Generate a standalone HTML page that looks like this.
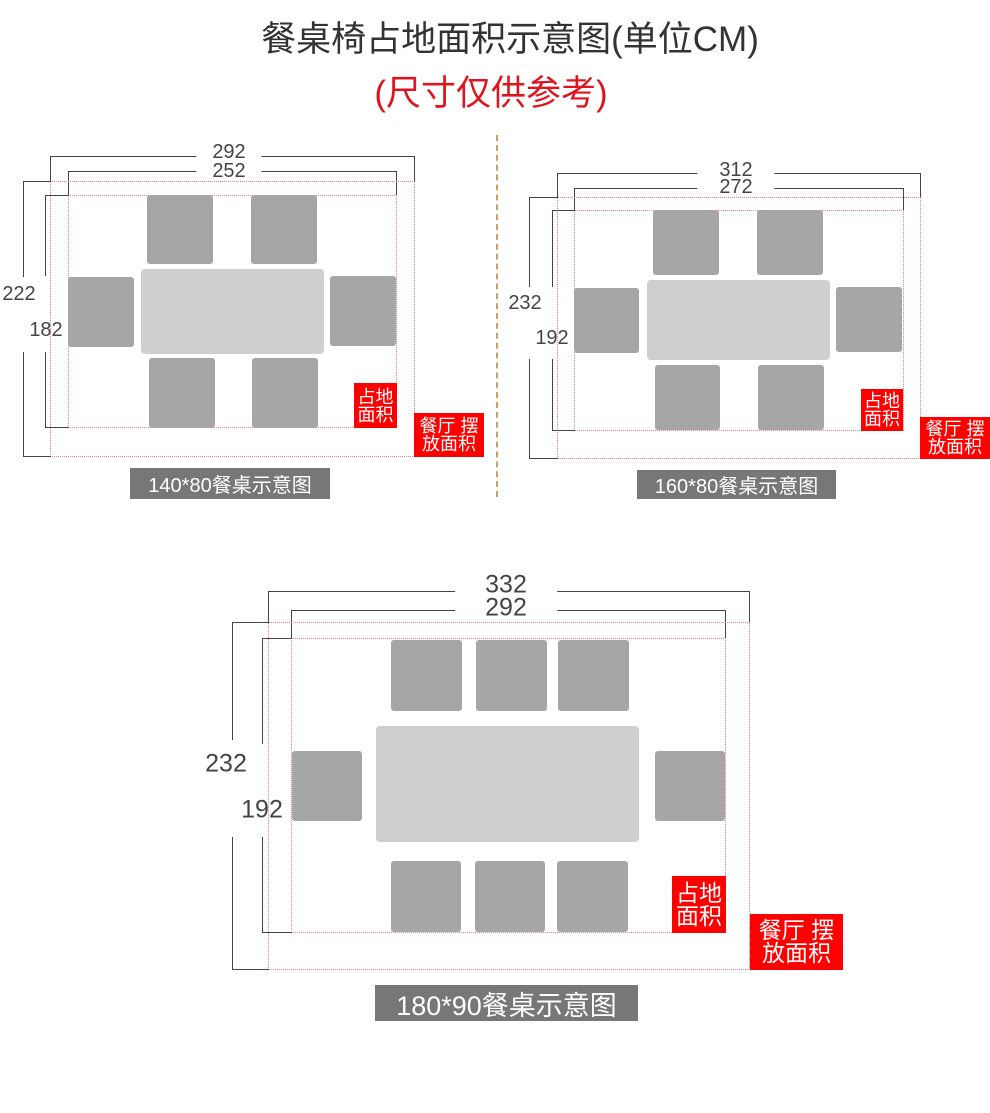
<!DOCTYPE html>
<html><head><meta charset="utf-8"><style>
body{margin:0;width:990px;height:1113px;background:#fff;position:relative;overflow:hidden;font-family:"Liberation Sans","Noto Sans CJK SC",sans-serif}
div{position:absolute;box-sizing:border-box}
.h{height:0;border-top:1.5px solid #444}
.v{width:0;border-left:1.5px solid #444}
.r{border:1px dotted #f08080}
.c{background:#a6a6a6;border-radius:3px}
.t{background:#cfcfcf;border-radius:4px}
.n{color:#444;line-height:1;white-space:nowrap;transform:translate(-50%,-50%);background:#fff;padding:0 2px}
.lb{background:#f00;color:#fff;line-height:1;font-size:18px;display:flex;flex-direction:column;align-items:center;justify-content:center;text-align:center}
.cap{background:#777;color:#fff;display:flex;align-items:center;justify-content:center;white-space:nowrap}
</style></head><body>
<div style="left:0;width:1020px;top:18px;text-align:center;font-size:35px;color:#333;line-height:44px">餐桌椅占地面积示意图(单位CM)</div>
<div style="left:0;width:982px;top:72px;text-align:center;font-size:35px;color:#e0141e;line-height:44px">(尺寸仅供参考)</div>
<div style="left:496px;top:135px;height:362px;width:0;border-left:2px dashed #c9a070"></div>

<!-- D1 -->
<div class="h" style="left:50px;top:156px;width:365px"></div>
<div class="v" style="left:50px;top:156px;height:26px"></div>
<div class="v" style="left:414px;top:156px;height:26px"></div>
<div class="h" style="left:68px;top:171px;width:329px"></div>
<div class="v" style="left:68px;top:171px;height:25px"></div>
<div class="v" style="left:396px;top:171px;height:25px"></div>
<div class="n" style="left:229px;top:152px;font-size:20px;padding:0 16px">292</div>
<div class="n" style="left:229px;top:171px;font-size:20px;padding:0 16px">252</div>
<div class="r" style="left:50px;top:181px;width:365px;height:276px"></div>
<div class="r" style="left:68px;top:195px;width:329px;height:233px"></div>
<div class="h" style="left:23px;top:181px;width:28px"></div>
<div class="v" style="left:23px;top:181px;height:96px"></div>
<div class="v" style="left:23px;top:352px;height:105px"></div>
<div class="h" style="left:23px;top:456px;width:28px"></div>
<div class="h" style="left:45px;top:195px;width:24px"></div>
<div class="v" style="left:45px;top:195px;height:81px"></div>
<div class="v" style="left:45px;top:352px;height:76px"></div>
<div class="h" style="left:45px;top:427px;width:24px"></div>
<div class="n" style="left:19px;top:294px;font-size:20px;background:none">222</div>
<div class="n" style="left:46px;top:330px;font-size:20px;background:none">182</div>
<div class="c" style="left:147px;top:195px;width:66px;height:69px"></div>
<div class="c" style="left:251px;top:195px;width:66px;height:69px"></div>
<div class="t" style="left:141px;top:269px;width:183px;height:85px"></div>
<div class="c" style="left:68px;top:277px;width:66px;height:70px"></div>
<div class="c" style="left:330px;top:276px;width:66px;height:70px"></div>
<div class="c" style="left:149px;top:358px;width:66px;height:70px"></div>
<div class="c" style="left:252px;top:358px;width:66px;height:70px"></div>
<div class="lb" style="left:354px;top:383px;width:43px;height:45px">占地<br>面积</div>
<div class="lb" style="left:414px;top:413px;width:70px;height:44px">餐厅 摆<br>放面积</div>
<div class="cap" style="left:130px;top:468px;width:200px;height:31px;font-size:20px">140*80餐桌示意图</div>

<!-- D2 -->
<div class="h" style="left:557px;top:173px;width:364px"></div>
<div class="v" style="left:557px;top:173px;height:25px"></div>
<div class="v" style="left:920px;top:173px;height:25px"></div>
<div class="h" style="left:574px;top:188px;width:330px"></div>
<div class="v" style="left:574px;top:188px;height:23px"></div>
<div class="v" style="left:903px;top:188px;height:23px"></div>
<div class="n" style="left:736px;top:170px;font-size:20px;padding:0 22px">312</div>
<div class="n" style="left:736px;top:187px;font-size:20px;padding:0 22px">272</div>
<div class="r" style="left:557px;top:197px;width:364px;height:262px"></div>
<div class="r" style="left:574px;top:210px;width:330px;height:221px"></div>
<div class="h" style="left:529px;top:197px;width:29px"></div>
<div class="v" style="left:529px;top:197px;height:90px"></div>
<div class="v" style="left:529px;top:359px;height:100px"></div>
<div class="h" style="left:529px;top:458px;width:29px"></div>
<div class="h" style="left:552px;top:210px;width:23px"></div>
<div class="v" style="left:552px;top:210px;height:77px"></div>
<div class="v" style="left:552px;top:359px;height:72px"></div>
<div class="h" style="left:552px;top:430px;width:23px"></div>
<div class="n" style="left:525px;top:303px;font-size:20px;background:none">232</div>
<div class="n" style="left:552px;top:338px;font-size:20px;background:none">192</div>
<div class="c" style="left:653px;top:210px;width:66px;height:65px"></div>
<div class="c" style="left:757px;top:210px;width:66px;height:65px"></div>
<div class="t" style="left:647px;top:280px;width:183px;height:80px"></div>
<div class="c" style="left:574px;top:288px;width:65px;height:65px"></div>
<div class="c" style="left:836px;top:287px;width:66px;height:65px"></div>
<div class="c" style="left:655px;top:365px;width:65px;height:65px"></div>
<div class="c" style="left:758px;top:365px;width:66px;height:65px"></div>
<div class="lb" style="left:861px;top:389px;width:42px;height:42px">占地<br>面积</div>
<div class="lb" style="left:920px;top:417px;width:70px;height:42px">餐厅 摆<br>放面积</div>
<div class="cap" style="left:637px;top:470px;width:199px;height:29px;font-size:20px">160*80餐桌示意图</div>

<!-- D3 -->
<div class="h" style="left:268px;top:591px;width:482px"></div>
<div class="v" style="left:268px;top:591px;height:32px"></div>
<div class="v" style="left:749px;top:591px;height:32px"></div>
<div class="h" style="left:291px;top:610px;width:435px"></div>
<div class="v" style="left:291px;top:610px;height:29px"></div>
<div class="v" style="left:725px;top:610px;height:29px"></div>
<div class="n" style="left:506px;top:585px;font-size:25px;padding:0 30px">332</div>
<div class="n" style="left:506px;top:608px;font-size:25px;padding:0 30px">292</div>
<div class="r" style="left:268px;top:622px;width:482px;height:348px"></div>
<div class="r" style="left:291px;top:638px;width:435px;height:295px"></div>
<div class="h" style="left:232px;top:622px;width:37px"></div>
<div class="v" style="left:232px;top:622px;height:118px"></div>
<div class="v" style="left:232px;top:837px;height:133px"></div>
<div class="h" style="left:232px;top:969px;width:37px"></div>
<div class="h" style="left:262px;top:638px;width:30px"></div>
<div class="v" style="left:262px;top:638px;height:106px"></div>
<div class="v" style="left:262px;top:837px;height:96px"></div>
<div class="h" style="left:262px;top:932px;width:30px"></div>
<div class="n" style="left:226px;top:764px;font-size:25px;background:none">232</div>
<div class="n" style="left:262px;top:810px;font-size:25px;background:none">192</div>
<div class="c" style="left:391px;top:640px;width:71px;height:71px"></div>
<div class="c" style="left:476px;top:640px;width:71px;height:71px"></div>
<div class="c" style="left:558px;top:640px;width:71px;height:71px"></div>
<div class="t" style="left:376px;top:726px;width:263px;height:116px"></div>
<div class="c" style="left:292px;top:751px;width:70px;height:70px"></div>
<div class="c" style="left:655px;top:751px;width:70px;height:70px"></div>
<div class="c" style="left:391px;top:861px;width:70px;height:71px"></div>
<div class="c" style="left:475px;top:861px;width:70px;height:71px"></div>
<div class="c" style="left:557px;top:861px;width:71px;height:71px"></div>
<div class="lb" style="left:672px;top:876px;width:54px;height:57px;font-size:23px">占地<br>面积</div>
<div class="lb" style="left:750px;top:914px;width:93px;height:56px;font-size:23px">餐厅 摆<br>放面积</div>
<div class="cap" style="left:375px;top:985px;width:263px;height:36px;font-size:27px">180*90餐桌示意图</div>
</body></html>
